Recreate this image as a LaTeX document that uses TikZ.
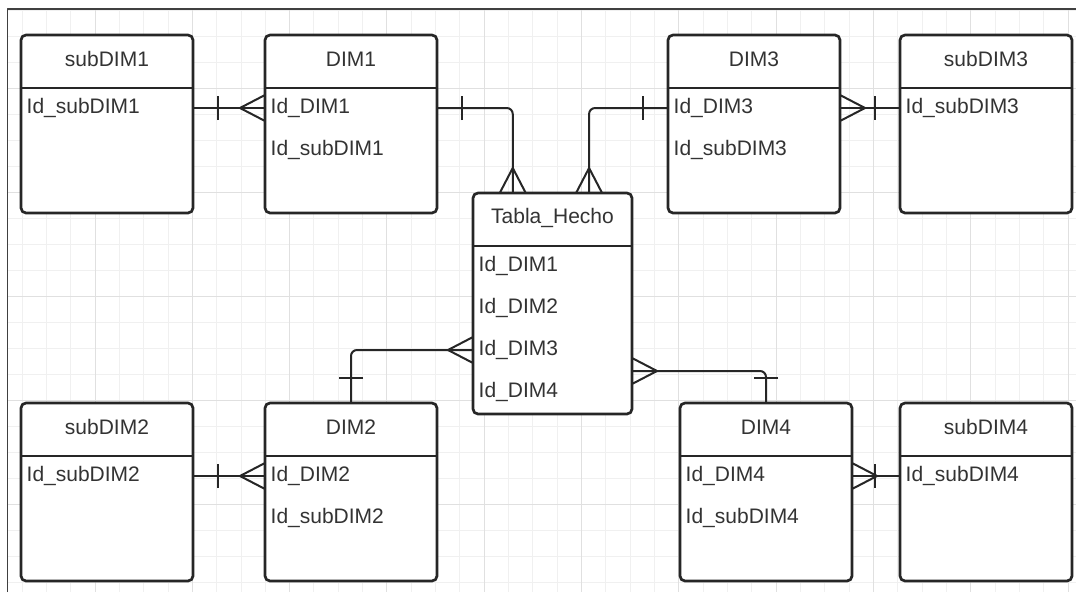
\documentclass[tikz,border=0pt]{standalone}
\usepackage{fontspec}
\setmainfont{Liberation Sans}
\usetikzlibrary{arrows.meta, positioning, calc}

% crow's foot (many) and single bar (one)
\pgfdeclarearrow{
  name = Many,
  parameters = {},
  setup code = {
    \pgfarrowssettipend{0pt}
    \pgfarrowssetlineend{0pt}
    \pgfarrowssetbackend{-25pt}
    \pgfarrowssetvisualbackend{-25pt}
  },
  drawing code = {
    \pgfsetroundjoin
    \pgfpathmoveto{\pgfqpoint{0pt}{13pt}}
    \pgfpathlineto{\pgfqpoint{-25pt}{0pt}}
    \pgfpathlineto{\pgfqpoint{0pt}{-13pt}}
    \pgfusepathqstroke
  }
}
\pgfdeclarearrow{
  name = One,
  parameters = {},
  setup code = {
    \pgfarrowssettipend{0pt}
    \pgfarrowssetlineend{0pt}
    \pgfarrowssetbackend{-25pt}
    \pgfarrowssetvisualbackend{-25pt}
  },
  drawing code = {
    \pgfpathmoveto{\pgfqpoint{-25pt}{12pt}}
    \pgfpathlineto{\pgfqpoint{-25pt}{-12pt}}
    \pgfusepathqstroke
  }
}

\begin{document}
\begin{tikzpicture}[
  x=1pt, y=1pt, line join=round,
  entity/.style = {draw=black!85, fill=white, rounded corners=5pt, line width=2.7pt,
                   minimum width=172pt, minimum height=178pt, inner sep=0pt, outer sep=0pt},
  etitle/.style = {anchor=base, text=black!80, font=\fontsize{21}{25}\selectfont},
  efield/.style = {anchor=base west, text=black!80, font=\fontsize{21}{25}\selectfont,
                   text height=10pt, text depth=0pt, inner sep=0pt},
  hdr/.style    = {draw=black!85, line width=2.7pt},
  conn/.style   = {draw=black!85, line width=2pt, rounded corners=6pt},
  gminor/.style = {draw=black!6, line width=1pt},
  gmajor/.style = {draw=black!12, line width=1pt},
]
  \useasboundingbox (0,0) rectangle (1076,-592);
  \fill[white] (0,0) rectangle (1076,-592);

  % background grid
  \foreach \k in {1,...,44} \draw[gminor] ({-2.3+24.33*\k},-9) -- ++(0,-583);
  \foreach \j in {0,...,22} \draw[gminor] (7.5,{-10.7-26*\j}) -- ++(1068.5,0);
  \foreach \k in {1,...,11} \draw[gmajor] ({-2.3+97.32*\k},-9) -- ++(0,-583);
  \foreach \j in {0,...,4}  \draw[gmajor] (7.5,{-88.7-104*\j}) -- ++(1068.5,0);
  \draw[black!75, line width=1.3pt] (7.5,-592) -- (7.5,-9) -- (1076,-9);

  % entities
  \node[entity, anchor=north west]  (sub1) at (21,-35) {};
  \node[entity, right=72pt of sub1] (dim1) {};
  \node[entity, below=190pt of sub1] (sub2) {};
  \node[entity, right=72pt of sub2] (dim2) {};
  \node[entity, minimum width=159pt, minimum height=221pt, anchor=north west]
       (hecho) at ($(dim1.north east)+(36,-158)$) {};
  \node[entity, anchor=north west]  (dim3) at ($(hecho.east |- dim1.north)+(36,0)$) {};
  \node[entity, right=60pt of dim3] (sub3) {};
  \node[entity]                     (sub4) at (sub3 |- sub2) {};
  \node[entity, left=48pt of sub4]  (dim4) {};

  % header lines
  \foreach \e in {sub1,dim1,sub2,dim2,hecho,dim3,sub3,dim4,sub4}
    \draw[hdr] ([yshift=-53pt]\e.north west) -- ([yshift=-53pt]\e.north east);

  % titles
  \node[etitle] (sub1t)  at ([yshift=-31pt]sub1.north)  {subDIM1};
  \node[etitle] (dim1t)  at ([yshift=-31pt]dim1.north)  {DIM1};
  \node[etitle] (sub2t)  at ([yshift=-31pt]sub2.north)  {subDIM2};
  \node[etitle] (dim2t)  at ([yshift=-31pt]dim2.north)  {DIM2};
  \node[etitle] (hechot) at ([yshift=-30pt]hecho.north) {Tabla\_Hecho};
  \node[etitle] (dim3t)  at ([yshift=-31pt]dim3.north)  {DIM3};
  \node[etitle] (sub3t)  at ([yshift=-31pt]sub3.north)  {subDIM3};
  \node[etitle] (dim4t)  at ([yshift=-31pt]dim4.north)  {DIM4};
  \node[etitle] (sub4t)  at ([yshift=-31pt]sub4.north)  {subDIM4};

  % fields
  \node[efield] (sub1a) at ([shift={(5.5,-78)}]sub1.north west) {Id\_subDIM1};
  \node[efield] (dim1a) at ([shift={(5.5,-78)}]dim1.north west) {Id\_DIM1};
  \node[efield] (dim1b) at ([shift={(5.5,-120)}]dim1.north west) {Id\_subDIM1};
  \node[efield] (sub2a) at ([shift={(5.5,-78)}]sub2.north west) {Id\_subDIM2};
  \node[efield] (dim2a) at ([shift={(5.5,-78)}]dim2.north west) {Id\_DIM2};
  \node[efield] (dim2b) at ([shift={(5.5,-120)}]dim2.north west) {Id\_subDIM2};
  \node[efield] (hecho1) at ([shift={(5.5,-78)}]hecho.north west)  {Id\_DIM1};
  \node[efield] (hecho2) at ([shift={(5.5,-120)}]hecho.north west) {Id\_DIM2};
  \node[efield] (hecho3) at ([shift={(5.5,-162)}]hecho.north west) {Id\_DIM3};
  \node[efield] (hecho4) at ([shift={(5.5,-204)}]hecho.north west) {Id\_DIM4};
  \node[efield] (dim3a) at ([shift={(5.5,-78)}]dim3.north west) {Id\_DIM3};
  \node[efield] (dim3b) at ([shift={(5.5,-120)}]dim3.north west) {Id\_subDIM3};
  \node[efield] (sub3a) at ([shift={(5.5,-78)}]sub3.north west) {Id\_subDIM3};
  \node[efield] (dim4a) at ([shift={(5.5,-78)}]dim4.north west) {Id\_DIM4};
  \node[efield] (dim4b) at ([shift={(5.5,-120)}]dim4.north west) {Id\_subDIM4};
  \node[efield] (sub4a) at ([shift={(5.5,-78)}]sub4.north west) {Id\_subDIM4};

  % where the links enter the fact table
  \coordinate (hin1) at ($(hecho.north west)!0.25!(hecho.north east)$);
  \coordinate (hin3) at ($(hecho.north west)!0.73!(hecho.north east)$);
  \coordinate (hmid) at ($(hecho3)!0.5!(hecho4)$);

  % relationships
  \draw[conn, {One}-{Many}] (sub1.east |- dim1a) -- (dim1.west |- dim1a);
  \draw[conn, {One}-{Many}] (dim1.east |- dim1a) -| (hin1);
  \draw[conn, {One}-{Many}] (dim3.west |- dim3a) -| (hin3);
  \draw[conn, {Many}-{One}] (dim3.east |- dim3a) -- (sub3.west |- dim3a);
  \draw[conn, {One}-{Many}] (dim2.north) |- (hecho.west |- hecho3);
  \draw[conn, {One}-{Many}] (dim4.north) |- (hecho.east |- hmid);
  \draw[conn, {One}-{Many}] (sub2.east |- dim2a) -- (dim2.west |- dim2a);
  \draw[conn, {Many}-{One}] (dim4.east |- dim4a) -- (sub4.west |- dim4a);
\end{tikzpicture}
\end{document}
